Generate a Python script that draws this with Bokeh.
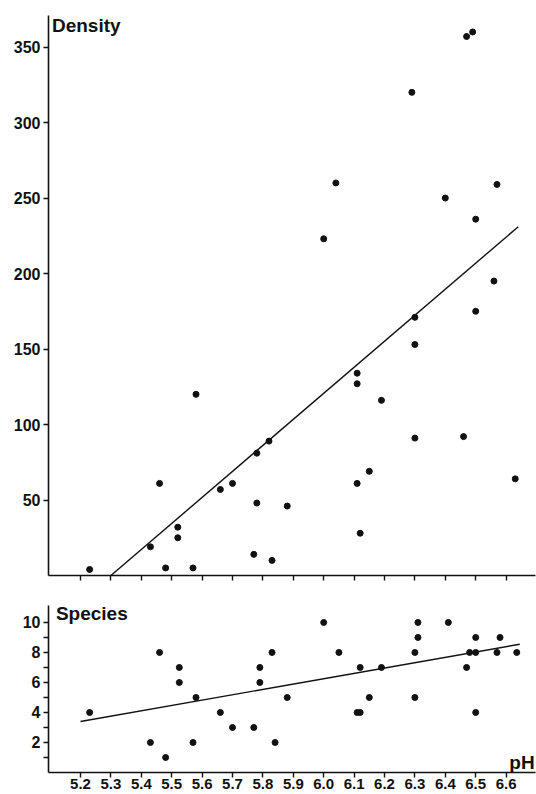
from bokeh.plotting import figure
from bokeh.layouts import column
from bokeh.models import Range1d, FixedTicker, Label
from bokeh.embed import file_html
from bokeh.resources import INLINE

# ---- data ----
density_ph = [5.23, 5.43, 5.46, 5.48, 5.52, 5.52, 5.57, 5.58, 5.66, 5.70,
              5.77, 5.78, 5.78, 5.82, 5.83, 5.88, 6.00, 6.04, 6.11, 6.11,
              6.11, 6.12, 6.15, 6.19, 6.29, 6.30, 6.30, 6.30, 6.40, 6.46,
              6.47, 6.49, 6.50, 6.50, 6.56, 6.57, 6.63]
density_val = [4, 19, 61, 5, 32, 25, 5, 120, 57, 61,
               14, 81, 48, 89, 10, 46, 223, 260, 61, 134,
               127, 28, 69, 116, 320, 91, 171, 153, 250, 92,
               357, 360, 236, 175, 195, 259, 64]
density_fit_ph = [5.30, 6.64]
density_fit_val = [0, 231]

species_ph = [5.23, 5.43, 5.46, 5.48, 5.525, 5.525, 5.57, 5.58, 5.66, 5.70,
              5.77, 5.79, 5.79, 5.83, 5.84, 5.88, 6.00, 6.05, 6.11, 6.12,
              6.12, 6.15, 6.19, 6.30, 6.30, 6.31, 6.31, 6.41, 6.47, 6.48,
              6.50, 6.50, 6.50, 6.57, 6.58, 6.635]
species_val = [4, 2, 8, 1, 7, 6, 2, 5, 4, 3,
               3, 7, 6, 8, 2, 5, 10, 8, 4, 4,
               7, 5, 7, 8, 5, 10, 9, 10, 7, 8,
               9, 8, 4, 8, 9, 8]
species_fit_ph = [5.20, 6.645]
species_fit_val = [3.4, 8.55]

ph_ticks = [5.2, 5.3, 5.4, 5.5, 5.6, 5.7, 5.8, 5.9, 6.0, 6.1, 6.2, 6.3, 6.4, 6.5, 6.6]
ph_labels = ["5.2", "5.3", "5.4", "5.5", "5.6", "5.7", "5.8", "5.9", "6.0",
             "6.1", "6.2", "6.3", "6.4", "6.5", "6.6"]
density_ticks = [50, 100, 150, 200, 250, 300, 350]
species_ticks = [1, 2, 3, 4, 5, 6, 7, 8, 9, 10]
species_labels = ["", "2", "", "4", "", "6", "", "8", "", "10"]

FONT = "Liberation Sans"
X0, X1 = 5.0947, 6.6967


def style(p):
    p.outline_line_color = None
    p.xgrid.visible = False
    p.ygrid.visible = False
    p.background_fill_color = "white"
    p.border_fill_color = "white"
    for ax in (p.xaxis[0], p.yaxis[0]):
        ax.axis_line_color = "#111111"
        ax.axis_line_width = 1.6
        ax.major_tick_line_color = "#111111"
        ax.major_tick_line_width = 1.4
        ax.major_tick_in = 0
        ax.major_tick_out = 5
        ax.minor_tick_line_color = None
        ax.major_label_text_font = FONT
        ax.major_label_text_font_style = "bold"
        ax.major_label_text_font_size = "16px"
        ax.major_label_text_color = "#111111"
        ax.major_label_standoff = 1
    p.yaxis[0].major_label_standoff = 3


# ---- top: density ----
p1 = figure(width=536, height=585, output_backend="svg", toolbar_location=None,
            x_range=Range1d(X0, X1), y_range=Range1d(0, 370.9),
            min_border_left=48, min_border_right=1, min_border_top=15,
            min_border_bottom=10)
style(p1)
p1.xaxis[0].ticker = FixedTicker(ticks=ph_ticks)
p1.xaxis[0].major_label_overrides = {t: "" for t in ph_ticks}
p1.xaxis[0].major_label_standoff = 0
p1.yaxis[0].ticker = FixedTicker(ticks=density_ticks)
p1.scatter(density_ph, density_val, size=6, color="#111111")
p1.line(density_fit_ph, density_fit_val, line_color="#111111", line_width=1.4)
p1.add_layout(Label(x=5.106, y=364.3, text="Density", text_font=FONT,
                    text_font_style="bold", text_font_size="19px",
                    text_color="#111111", text_baseline="alphabetic"))

# ---- bottom: species ----
p2 = figure(width=536, height=209, output_backend="svg", toolbar_location=None,
            x_range=Range1d(X0, X1), y_range=Range1d(0, 11.13),
            min_border_left=48, min_border_right=1, min_border_top=20,
            min_border_bottom=22)
style(p2)
p2.xaxis[0].ticker = FixedTicker(ticks=ph_ticks)
p2.xaxis[0].major_label_overrides = dict(zip(ph_ticks, ph_labels))
p2.xaxis[0].major_label_text_font_size = "15px"
p2.yaxis[0].ticker = FixedTicker(ticks=species_ticks)
p2.yaxis[0].major_label_overrides = dict(zip(species_ticks, species_labels))
p2.scatter(species_ph, species_val, size=6, color="#111111")
p2.line(species_fit_ph, species_fit_val, line_color="#111111", line_width=1.4)
p2.add_layout(Label(x=5.119, y=10.59, text="Species", text_font=FONT,
                    text_font_style="bold", text_font_size="19px",
                    text_color="#111111", text_baseline="alphabetic"))
p2.add_layout(Label(x=6.694, y=0.66, text="pH", text_font=FONT,
                    text_font_style="bold", text_font_size="19px",
                    text_color="#111111", text_baseline="alphabetic",
                    text_align="right"))

layout = column(p1, p2, spacing=0)
open("out.html", "w").write(file_html(layout, INLINE))
